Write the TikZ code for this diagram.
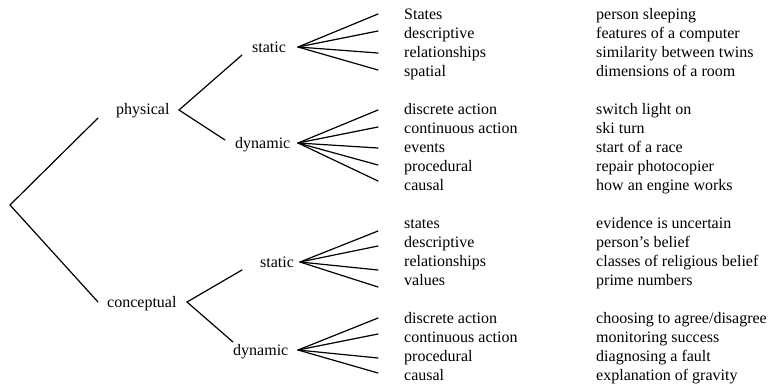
\documentclass[tikz,border=0pt]{standalone}
\usepackage{fontspec}
\setmainfont{Liberation Serif}
\begin{document}
\begin{tikzpicture}[x=1pt,y=-1pt,
  lbl/.style={inner sep=0pt, anchor=base west, font=\fontsize{16}{19}\selectfont},
  br/.style={line width=1.2pt, line cap=round, line join=miter}]
\useasboundingbox (0,0) rectangle (769,389);

% category labels
\node[lbl] (physical) at (116,114) {physical};
\node[lbl] (conceptual) at (107,307) {conceptual};
\node[lbl] (pstatic) at (252,52) {static};
\node[lbl] (pdynamic) at (235,148) {dynamic};
\node[lbl] (cstatic) at (260,267) {static};
\node[lbl] (cdynamic) at (233,355) {dynamic};

% vertices and ends
\coordinate (root) at (10,205);
\coordinate (rootU) at (98,118);
\coordinate (rootL) at (98,302);
\coordinate (physv) at (179,110);
\coordinate (physS) at (242,55);
\coordinate (physD) at (225,140);
\coordinate (concv) at (187,302);
\coordinate (concS) at (242,270);
\coordinate (concD) at (233,342);
\coordinate (spv) at (298,47);
\coordinate (dpv) at (298,143);
\coordinate (scv) at (300,262);
\coordinate (dcv) at (298,350);

\coordinate (sp1) at (378,14);
\coordinate (sp2) at (378,31);
\coordinate (sp3) at (378,53);
\coordinate (sp4) at (378,70);
\coordinate (dp1) at (378,110);
\coordinate (dp2) at (378,127);
\coordinate (dp3) at (378,148);
\coordinate (dp4) at (378,165);
\coordinate (dp5) at (378,181);
\coordinate (sc1) at (378,231);
\coordinate (sc2) at (378,246);
\coordinate (sc3) at (378,270);
\coordinate (sc4) at (378,287);
\coordinate (dc1) at (378,318);
\coordinate (dc2) at (378,334);
\coordinate (dc3) at (378,358);
\coordinate (dc4) at (378,373);

% items
\node[lbl] (i1) at (404,19) {States};
\node[lbl] (i2) at (404,38) {descriptive};
\node[lbl] (i3) at (404,57) {relationships};
\node[lbl] (i4) at (404,76) {spatial};
\node[lbl] (i5) at (404,114) {discrete action};
\node[lbl] (i6) at (404,133) {continuous action};
\node[lbl] (i7) at (404,152) {events};
\node[lbl] (i8) at (404,171) {procedural};
\node[lbl] (i9) at (404,190) {causal};
\node[lbl] (i10) at (404,228) {states};
\node[lbl] (i11) at (404,247) {descriptive};
\node[lbl] (i12) at (404,266) {relationships};
\node[lbl] (i13) at (404,285) {values};
\node[lbl] (i14) at (404,323) {discrete action};
\node[lbl] (i15) at (404,342) {continuous action};
\node[lbl] (i16) at (404,361) {procedural};
\node[lbl] (i17) at (404,380) {causal};

% examples
\node[lbl] (e1) at (596,19) {person sleeping};
\node[lbl] (e2) at (596,38) {features of a computer};
\node[lbl] (e3) at (596,57) {similarity between twins};
\node[lbl] (e4) at (596,76) {dimensions of a room};
\node[lbl] (e5) at (596,114) {switch light on};
\node[lbl] (e6) at (596,133) {ski turn};
\node[lbl] (e7) at (596,152) {start of a race};
\node[lbl] (e8) at (596,171) {repair photocopier};
\node[lbl] (e9) at (596,190) {how an engine works};
\node[lbl] (e10) at (596,228) {evidence is uncertain};
\node[lbl] (e11) at (596,247) {person’s belief};
\node[lbl] (e12) at (596,266) {classes of religious belief};
\node[lbl] (e13) at (596,285) {prime numbers};
\node[lbl] (e14) at (596,323) {choosing to agree/disagree};
\node[lbl] (e15) at (596,342) {monitoring success};
\node[lbl] (e16) at (596,361) {diagnosing a fault};
\node[lbl] (e17) at (596,380) {explanation of gravity};

% branches
\draw[br] (rootU) -- (root) -- (rootL);
\draw[br] (physS) -- (physv) -- (physD);
\draw[br] (concS) -- (concv) -- (concD);
\foreach \e in {sp1,sp2,sp3,sp4} \draw[br] (spv) -- (\e);
\foreach \e in {dp1,dp2,dp3,dp4,dp5} \draw[br] (dpv) -- (\e);
\foreach \e in {sc1,sc2,sc3,sc4} \draw[br] (scv) -- (\e);
\foreach \e in {dc1,dc2,dc3,dc4} \draw[br] (dcv) -- (\e);
\end{tikzpicture}
\end{document}
